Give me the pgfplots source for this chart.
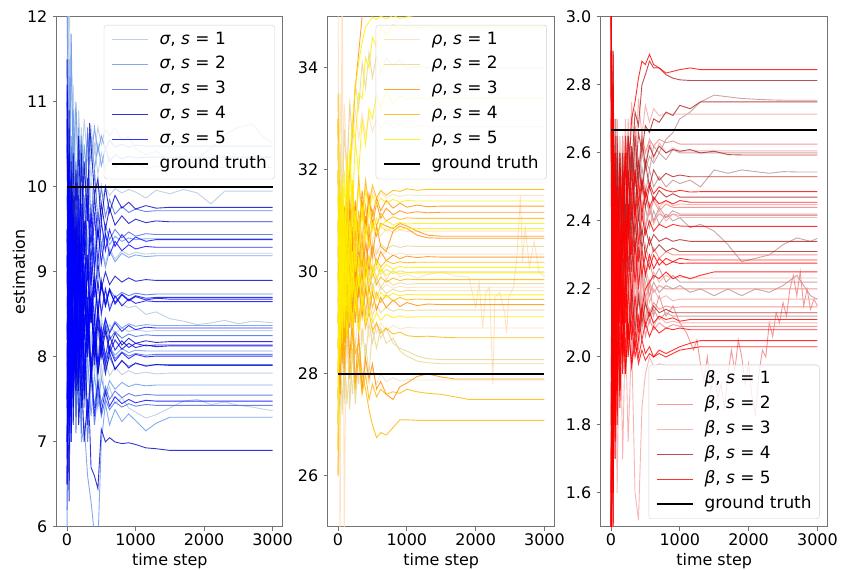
\documentclass[border=0pt]{standalone}
\usepackage{fontspec}
\setmainfont{DejaVu Sans}
\usepackage{pgfplots}
\usepackage{pgfplotstable}
\pgfplotsset{compat=1.18}

% series colours
\definecolor{b1}{HTML}{B0C4DE}\definecolor{b2}{HTML}{6495ED}\definecolor{b3}{HTML}{4169E1}
\definecolor{b4}{HTML}{0000CD}\definecolor{b5}{HTML}{0000FF}
\definecolor{r1}{HTML}{FCDDB8}\definecolor{r2}{HTML}{E6D48A}\definecolor{r3}{HTML}{FF8C00}
\definecolor{r4}{HTML}{FFB400}\definecolor{r5}{HTML}{FFEE00}
\definecolor{k1}{HTML}{BC8F8F}\definecolor{k2}{HTML}{F08080}\definecolor{k3}{HTML}{F4A4A4}
\definecolor{k4}{HTML}{B22222}\definecolor{k5}{HTML}{FF0000}

% ---------------- sigma runs ----------------
\pgfplotstableread{
x a b c d e f g h
0 9.8 13.0 8.5 11.5 7.5 10.0 6.5 12.0
30 12.8 9.2 11.2 8.0 10.6 7.0 9.8 8.4
60 9.5 11.8 8.2 10.4 7.9 9.7 7.4 10.1
90 11.2 9.5 10.6 8.6 9.9 7.7 9.3 7.2
130 9.9 10.9 9.2 10.0 8.0 9.4 7.5 9.5
170 10.9 9.8 10.4 8.6 9.6 7.9 8.9 7.4
210 10.2 10.7 9.4 9.7 8.2 9.1 7.6 8.9
250 10.8 10.0 10.2 8.8 9.3 8.0 8.6 7.5
300 10.3 10.6 9.6 9.5 8.4 8.8 7.7 8.5
350 10.7 10.1 10.1 8.9 9.0 8.1 8.3 7.6
400 10.4 10.5 9.7 9.4 8.5 8.6 7.8 8.2
450 10.7 10.15 10.05 9.0 8.9 8.2 8.15 7.55
500 10.5 10.4 9.8 9.3 8.55 8.45 7.75 7.9
560 10.68 10.2 10.0 9.1 8.8 8.25 7.95 7.5
620 10.6 10.35 9.9 9.28 8.6 8.38 7.78 7.65
700 10.7 10.22 9.98 9.15 8.7 8.28 7.88 7.45
800 10.55 10.3 9.93 9.25 8.62 8.34 7.79 7.52
900 10.6 10.24 9.97 9.2 8.58 8.3 7.84 7.4
1000 10.45 10.27 9.94 9.23 8.6 8.32 7.8 7.35
1150 10.38 10.22 9.87 9.21 8.5 8.3 7.82 7.28
1300 10.42 10.24 9.96 9.22 8.53 8.31 7.8 7.32
1500 10.3 10.23 9.92 9.22 8.45 8.31 7.81 7.4
1700 10.22 10.23 9.97 9.22 8.42 8.31 7.81 7.48
1900 10.33 10.23 9.93 9.22 8.38 8.31 7.81 7.5
2100 10.45 10.23 9.8 9.22 8.4 8.31 7.81 7.44
2300 10.62 10.23 9.95 9.22 8.43 8.31 7.81 7.47
2500 10.7 10.23 9.95 9.22 8.39 8.31 7.81 7.43
2700 10.74 10.23 9.95 9.22 8.42 8.31 7.81 7.41
2900 10.56 10.23 9.95 9.22 8.41 8.31 7.81 7.38
3000 10.52 10.23 9.95 9.22 8.40 8.31 7.81 7.37
}\sigA
\pgfplotstableread{
x a b c d e f g h
0 12.5 9.0 7.0 10.8 6.0 9.5 11.0 8.0
30 9.5 11.5 10.2 7.5 9.4 7.2 7.8 9.8
60 11.8 9.3 8.0 10.0 7.3 9.6 9.4 7.0
90 10.2 10.9 9.9 8.1 9.2 7.6 7.5 8.6
130 11.0 9.6 8.4 9.7 7.8 9.0 8.9 7.4
170 10.0 10.7 9.7 8.4 8.9 7.6 7.3 8.0
210 10.6 9.8 8.7 9.5 7.9 8.6 8.4 7.0
250 10.1 10.5 9.6 8.6 8.7 7.7 7.4 7.2
300 10.6 10.0 8.9 9.4 8.0 8.4 8.0 6.6
350 10.3 10.6 9.5 8.8 8.6 7.8 7.3 6.3
400 10.7 10.2 9.1 9.3 8.1 8.3 7.8 5.9
450 10.4 10.5 9.5 8.9 8.5 7.9 7.4 5.8
500 10.6 10.25 9.25 9.3 8.25 8.2 7.75 7.0
560 10.45 10.45 9.45 9.05 8.45 7.95 7.55 7.45
620 10.55 10.3 9.32 9.25 8.3 8.12 7.72 7.2
700 10.47 10.38 9.42 9.12 8.42 8.02 7.62 7.38
800 10.5 10.33 9.36 9.22 8.34 8.1 7.7 7.24
900 10.47 10.36 9.4 9.17 8.39 8.05 7.65 7.33
1000 10.49 10.34 9.38 9.2 8.36 8.08 7.68 7.25
1150 10.48 10.35 9.39 9.18 8.38 8.07 7.66 7.13
1300 10.48 10.35 9.39 9.19 8.37 8.07 7.67 7.22
1500 10.48 10.35 9.39 9.19 8.37 8.07 7.67 7.29
3000 10.48 10.35 9.39 9.19 8.37 8.07 7.67 7.29
}\sigB
\pgfplotstableread{
x a b c d e f g h
0 11.0 7.5 9.9 6.2 10.6 8.3 7.0 9.4
30 8.3 10.5 7.4 9.6 7.9 10.0 9.6 7.2
60 10.6 8.1 9.5 7.5 9.8 7.0 7.3 9.9
90 8.7 10.2 7.9 9.3 7.6 9.1 9.2 7.6
130 10.3 8.6 9.3 7.9 9.5 7.3 7.1 9.2
170 9.0 10.0 8.0 9.0 7.8 8.7 8.6 7.7
210 10.5 8.9 9.2 7.7 9.1 7.1 7.4 8.9
250 9.3 9.9 8.3 8.9 7.7 8.2 8.0 7.6
300 10.7 9.0 9.0 8.0 8.6 7.3 7.0 8.6
350 9.5 9.8 8.4 8.7 7.8 7.9 7.8 7.7
400 10.2 9.1 8.9 8.1 8.4 7.4 7.2 8.3
450 9.6 9.7 8.6 8.5 7.9 7.75 7.6 7.8
500 10.0 9.3 8.85 8.15 8.25 7.45 7.3 8.1
560 9.65 9.55 8.65 8.4 7.95 7.65 7.5 7.85
620 9.85 9.38 8.8 8.2 8.12 7.5 7.38 8.0
700 9.68 9.5 8.7 8.3 7.98 7.6 7.47 7.86
800 9.77 9.4 8.76 8.22 8.06 7.52 7.41 7.95
900 9.7 9.47 8.72 8.27 8.01 7.57 7.45 7.89
1000 9.74 9.42 8.75 8.24 8.04 7.54 7.42 7.92
1150 9.71 9.45 8.73 8.26 8.02 7.56 7.44 7.90
1300 9.72 9.44 8.74 8.25 8.03 7.55 7.43 7.91
3000 9.72 9.44 8.74 8.25 8.03 7.55 7.43 7.91
}\sigC
\pgfplotstableread{
x a b c d e f g h
0 8.2 10.8 7.0 9.5 6.5 11.5 8.0 7.4
30 10.9 8.0 9.8 7.2 9.7 8.4 6.3 9.9
60 8.6 10.3 7.6 10.1 7.4 9.6 8.9 7.1
90 10.4 8.7 9.9 8.0 9.3 7.2 7.4 9.6
130 9.1 10.2 8.1 9.7 7.6 8.9 8.5 7.8
170 10.6 8.9 9.6 7.9 9.2 7.6 7.2 9.4
210 9.3 10.4 8.3 9.5 8.0 8.8 7.9 8.0
250 10.3 9.2 9.4 8.2 8.7 7.5 7.0 9.0
300 9.6 10.1 8.5 9.2 8.1 8.4 7.5 8.2
330 10.75 9.5 9.0 8.6 8.5 8.0 7.2 8.6
350 10.5 9.3 9.3 8.4 8.6 7.7 6.7 8.7
400 9.9 9.9 8.7 9.0 8.0 8.2 6.6 7.9
450 10.1 9.4 9.1 8.5 8.5 7.8 6.45 8.4
500 9.6 9.8 8.8 8.9 8.1 8.1 7.15 8.0
560 10.0 9.5 9.0 8.6 8.35 7.8 7.0 8.3
620 9.7 9.75 8.85 8.8 8.1 8.05 7.05 8.05
700 9.9 9.55 8.95 8.62 8.28 7.85 7.0 8.2
800 9.75 9.66 8.88 8.73 8.14 7.96 6.98 8.09
900 9.82 9.57 8.93 8.66 8.22 7.87 6.99 8.16
1000 9.74 9.62 8.89 8.71 8.16 7.93 6.97 8.11
1150 9.78 9.58 8.91 8.67 8.19 7.89 6.93 8.14
1300 9.75 9.60 8.90 8.69 8.17 7.91 6.92 8.12
1500 9.76 9.59 8.90 8.68 8.18 7.90 6.90 8.13
3000 9.76 9.59 8.90 8.68 8.18 7.90 6.90 8.13
}\sigD
\pgfplotstableread{
x a b c d e f g h
0 9.2 6.8 10.5 8.0 11.2 7.5 9.0 6.5
30 7.1 10.2 8.2 10.4 7.6 9.8 6.9 9.6
60 9.9 8.0 9.8 7.3 9.5 7.0 9.7 7.8
90 7.8 9.7 7.6 9.6 8.1 9.2 7.5 9.3
130 9.6 8.4 9.4 7.8 9.2 7.6 9.1 8.0
170 8.1 9.9 8.0 9.4 7.7 8.9 7.8 9.0
210 9.8 8.7 9.3 8.2 8.9 7.4 8.9 7.9
250 8.6 9.6 8.2 9.1 7.8 8.5 7.6 8.9
300 9.9 8.9 9.1 8.3 8.6 7.2 8.7 8.0
350 8.9 9.7 8.4 9.0 7.9 7.9 7.8 8.8
400 9.7 9.0 8.9 8.4 8.3 7.3 8.5 8.1
450 9.1 9.5 8.5 8.9 7.8 7.7 7.9 8.6
500 9.6 9.1 8.85 8.5 8.2 7.35 8.35 8.2
560 9.25 9.45 8.6 8.8 7.9 7.6 8.0 8.45
620 9.5 9.2 8.78 8.55 8.1 7.42 8.25 8.28
700 9.3 9.36 8.64 8.72 7.95 7.53 8.08 8.4
800 9.44 9.25 8.74 8.6 8.05 7.45 8.19 8.3
900 9.34 9.32 8.67 8.68 7.98 7.5 8.11 8.37
1000 9.41 9.27 8.72 8.63 8.03 7.46 8.16 8.32
1150 9.36 9.3 8.69 8.66 8.0 7.49 8.13 8.35
1300 9.38 9.29 8.70 8.65 8.01 7.48 8.14 8.34
3000 9.38 9.29 8.70 8.65 8.01 7.48 8.14 8.34
}\sigE

% ---------------- rho runs ----------------
\pgfplotstableread{
x a b c d e f g
0 28.0 33.0 31.0 26.5 30.0 27.0 30.5
30 31.5 29.5 27.5 30.8 27.0 30.5 33.5
60 29.0 32.2 30.0 28.0 29.3 28.3 31.6
90 31.2 30.4 28.0 30.5 27.4 30.9 33.3
130 29.6 31.9 29.6 28.6 28.8 29.0 32.0
170 30.9 30.8 28.3 30.2 27.5 30.6 33.4
210 29.8 31.8 29.4 29.0 28.5 29.5 32.4
250 30.8 31.0 28.5 30.1 27.6 30.7 33.2
300 30.0 31.7 29.3 29.3 28.3 30.0 32.6
350 30.7 31.2 28.6 30.0 27.7 30.9 33.1
400 30.1 31.7 29.2 29.5 28.2 30.4 32.7
450 30.55 31.3 28.7 29.9 27.8 30.85 33.05
500 30.2 31.6 29.1 29.6 28.1 30.6 32.75
560 30.45 31.4 28.8 29.8 27.8 30.9 33.0
620 30.3 31.55 29.0 29.65 28.0 30.7 32.8
700 30.4 31.45 28.85 29.75 27.85 30.85 32.95
800 30.32 31.52 28.95 29.68 27.93 30.77 32.82
900 30.37 31.48 28.88 29.72 27.86 30.82 32.9
1000 30.34 31.51 28.91 29.69 27.89 30.79 32.84
1150 30.35 31.5 28.9 29.7 27.88 30.8 32.86
1300 30.35 31.5 28.9 29.7 27.88 30.8 32.85
3000 30.35 31.5 28.9 29.7 27.88 30.8 32.85
}\rhoA
\pgfplotstableread{
x a b c d e f g h
0 30.0 26.0 31.5 28.5 33.0 27.0 29.5 32.0
30 32.5 28.8 27.4 31.0 29.0 30.5 31.8 28.0
60 31.0 27.2 29.6 28.8 31.2 28.2 29.0 30.4
90 32.8 28.6 27.5 30.5 29.4 30.0 31.0 28.6
130 31.8 27.4 28.9 29.2 30.9 28.6 29.4 30.0
170 33.3 28.4 27.3 30.4 29.7 29.8 30.7 28.9
210 32.6 27.6 28.5 29.3 30.8 28.8 29.6 29.8
250 33.7 28.7 27.4 30.2 29.9 29.6 30.5 29.0
300 33.2 27.8 28.3 29.5 30.7 29.0 29.8 29.9
350 34.1 28.9 27.6 30.1 30.0 29.5 30.3 29.2
400 33.6 28.3 28.6 29.6 30.6 29.1 29.9 29.8
450 34.3 29.0 28.0 30.0 30.2 29.4 30.2 29.4
500 33.8 28.6 28.9 29.7 30.6 29.15 29.9 29.75
560 34.25 29.0 28.5 29.9 30.35 29.35 30.1 29.5
620 33.9 28.7 28.9 29.7 30.55 29.2 29.95 29.7
700 34.2 28.9 28.6 29.85 30.45 29.3 30.05 29.58
800 34.05 28.6 28.7 29.74 30.52 29.23 29.97 29.66
900 34.15 28.5 28.45 29.79 30.48 29.27 30.02 29.61
1000 33.98 28.45 28.35 29.76 30.51 29.24 29.99 29.64
1150 34.03 28.35 28.25 29.77 30.5 29.25 30.0 29.63
1300 34.0 28.3 28.22 29.77 30.5 29.25 30.0 29.63
1500 34.0 28.28 28.2 29.77 30.5 29.25 30.0 29.63
3000 34.0 28.28 28.2 29.77 30.5 29.25 30.0 29.63
}\rhoB
\pgfplotstableread{
x a b c d e f g h
0 27.5 32.0 29.0 26.5 30.5 28.0 33.0 29.5
30 30.5 28.6 31.2 29.8 27.6 31.0 28.4 28.8
60 28.8 30.8 28.2 31.0 29.5 29.2 30.6 30.2
90 31.3 29.0 30.4 28.6 28.1 30.9 29.0 29.6
130 29.6 30.6 28.8 30.4 29.4 29.6 30.3 31.0
170 31.5 29.4 30.1 28.9 28.3 31.2 29.2 32.0
210 30.2 30.9 29.2 29.9 29.1 30.0 30.6 32.8
250 31.4 29.8 30.4 29.0 27.8 31.3 29.6 33.6
300 30.6 31.0 29.5 29.8 28.8 30.5 30.5 34.3
350 31.6 30.1 30.6 29.1 27.7 31.4 29.8 35.0
400 30.9 31.1 29.9 29.7 28.3 30.8 30.6 35.6
450 31.5 30.5 30.8 29.2 27.9 31.5 30.0 36.0
500 31.1 31.0 30.3 29.6 28.2 30.9 30.5 36.5
560 31.45 30.7 30.9 29.25 27.7 31.35 30.15 37
620 31.2 30.95 30.5 29.5 27.85 31.05 30.4 37
700 31.4 30.9 30.4 29.3 27.6 31.25 30.22 37
800 31.25 30.85 30.8 29.45 27.5 31.12 30.33 37
900 31.35 30.95 30.9 29.32 27.75 31.2 30.26 37
1000 31.27 30.9 30.85 29.4 27.82 31.15 30.31 37
1150 31.31 30.8 30.72 29.34 27.95 31.18 30.28 37
1300 31.28 30.72 30.67 29.37 28.0 31.16 30.3 37
1500 31.29 30.70 30.66 29.36 27.94 31.17 30.29 37
1700 31.29 30.70 30.66 29.36 27.90 31.17 30.29 37
3000 31.29 30.70 30.66 29.36 27.90 31.17 30.29 37
}\rhoC
\pgfplotstableread{
x a b c d e f g h
0 30.0 27.0 32.5 29.0 26.0 33.5 28.5 31.0
30 28.0 30.5 28.5 31.5 30.8 29.0 31.0 28.2
60 31.5 28.8 30.6 28.4 28.3 31.4 29.0 30.4
90 29.4 30.2 28.0 30.0 30.3 29.5 30.8 28.7
130 31.8 28.9 29.6 28.7 28.7 31.2 29.3 30.6
170 30.2 29.9 27.9 29.6 30.1 29.8 30.7 29.1
210 31.7 28.7 28.9 28.9 28.9 31.3 29.5 30.4
250 30.6 29.6 27.7 28.4 29.9 30.4 30.5 29.3
300 31.9 28.8 28.4 28.6 29.0 31.2 29.7 30.3
350 31.0 29.4 27.6 28.0 29.8 30.6 30.4 29.5
400 31.8 28.9 28.0 27.7 29.2 31.3 29.9 30.2
450 31.3 29.2 27.5 27.3 29.7 30.8 30.3 29.6
500 31.7 28.85 27.8 27.0 29.3 31.2 30.0 30.0
560 31.45 29.0 27.55 26.75 29.6 30.9 30.25 29.75
620 31.6 28.8 27.7 26.85 29.4 31.15 30.1 29.9
700 31.5 28.9 27.6 26.8 29.55 31.0 30.22 29.8
800 31.6 28.78 27.65 26.95 29.43 31.08 30.16 29.88
900 31.58 28.82 27.62 27.1 29.5 31.03 30.2 29.83
1000 31.63 28.75 27.7 27.1 29.45 31.06 30.18 29.86
1150 31.6 28.73 27.65 27.09 29.47 31.05 30.19 29.85
1300 31.62 28.74 27.62 27.09 29.46 31.05 30.19 29.85
1500 31.62 28.72 27.6 27.09 29.46 31.05 30.19 29.85
1700 31.62 28.71 27.55 27.09 29.46 31.05 30.19 29.85
1900 31.62 28.71 27.5 27.09 29.46 31.05 30.19 29.85
3000 31.62 28.71 27.5 27.09 29.46 31.05 30.19 29.85
}\rhoD
\pgfplotstableread{
x a b c d e f g h i j
0 32.0 28.0 31.0 27.5 30.0 33.0 26.5 29.0 31.5 27.0
30 29.5 31.5 28.5 30.5 28.2 29.3 30.8 30.0 29.0 31.8
60 31.6 29.3 30.7 28.6 31.3 30.7 28.9 29.6 31.9 29.5
90 30.0 31.2 29.0 30.1 29.2 28.9 30.6 30.8 30.2 32.0
130 31.9 29.6 30.5 28.7 31.0 30.3 29.2 31.3 32.3 30.4
170 30.4 31.0 29.3 29.8 29.6 29.0 30.4 32.2 31.4 32.4
210 31.8 30.0 30.4 28.9 31.2 30.0 29.5 32.9 32.9 31.2
250 30.8 31.2 29.5 29.6 30.0 29.2 30.5 33.6 32.6 32.6
300 31.7 30.4 30.3 28.8 31.0 29.9 29.7 34.1 33.5 31.9
350 31.0 31.3 29.7 29.5 30.3 29.3 30.4 34.5 33.4 33.0
400 31.6 30.6 30.2 29.0 30.9 29.8 29.8 34.8 34.2 32.5
450 31.2 31.2 29.8 29.3 30.5 29.4 30.3 34.9 34.0 33.2
500 31.5 30.8 30.1 29.0 30.95 29.7 29.95 35.0 34.6 33.0
560 31.3 31.05 29.9 29.2 30.75 29.45 30.2 34.95 34.4 33.5
620 31.45 30.9 30.05 29.05 30.9 29.6 30.0 35.02 34.8 33.2
700 31.35 31.0 29.93 29.17 30.8 29.5 30.14 34.96 34.65 33.55
800 31.42 30.92 30.01 29.1 30.88 29.58 30.06 35.03 34.85 33.3
900 31.37 30.97 29.96 29.14 30.83 29.53 30.11 34.97 34.75 33.45
1000 31.4 30.94 29.99 29.11 30.86 29.56 30.08 35.0 34.82 33.38
1150 31.39 30.95 29.98 29.12 30.85 29.55 30.09 35.04 34.79 33.42
1300 31.39 30.95 29.98 29.12 30.85 29.55 30.09 35.1 34.8 33.4
1500 31.39 30.95 29.98 29.12 30.85 29.55 30.09 35.4 34.8 33.4
3000 31.39 30.95 29.98 29.12 30.85 29.55 30.09 36.0 34.8 33.4
}\rhoE

% ---------------- beta runs ----------------
\pgfplotstableread{
x a b c d e f g h
0 3.1 1.6 2.9 1.3 3.2 1.5 2.8 1.4
30 1.7 2.7 1.6 2.6 1.8 2.8 1.5 2.9
60 2.5 2.0 2.5 2.0 2.4 1.9 2.3 2.2
90 2.0 2.6 2.1 2.5 1.9 2.5 1.8 2.7
130 2.55 2.2 2.45 2.1 2.35 2.1 2.25 2.3
170 2.2 2.6 2.2 2.45 2.05 2.55 1.95 2.65
210 2.6 2.3 2.5 2.15 2.3 2.2 2.25 2.35
250 2.35 2.6 2.25 2.4 2.1 2.5 2.0 2.6
300 2.62 2.4 2.45 2.2 2.3 2.3 2.2 2.4
350 2.45 2.58 2.3 2.35 2.12 2.48 2.05 2.62
400 2.58 2.45 2.45 2.22 2.28 2.35 2.18 2.5
450 2.5 2.56 2.35 2.3 2.15 2.46 2.08 2.6
500 2.58 2.48 2.44 2.24 2.25 2.38 2.16 2.55
560 2.55 2.55 2.38 2.28 2.18 2.45 2.1 2.59
620 2.62 2.5 2.43 2.23 2.22 2.4 2.14 2.57
700 2.6 2.53 2.39 2.26 2.19 2.44 2.11 2.6
800 2.64 2.5 2.42 2.22 2.21 2.41 2.13 2.58
900 2.66 2.52 2.4 2.24 2.2 2.43 2.12 2.61
1000 2.7 2.51 2.41 2.22 2.21 2.42 2.12 2.6
1150 2.72 2.52 2.38 2.22 2.19 2.42 2.12 2.6
1300 2.75 2.5 2.39 2.22 2.2 2.42 2.12 2.6
1500 2.77 2.55 2.37 2.22 2.18 2.42 2.12 2.6
1700 2.765 2.54 2.33 2.22 2.2 2.42 2.12 2.6
1900 2.76 2.55 2.28 2.22 2.18 2.42 2.12 2.6
2100 2.758 2.545 2.29 2.22 2.2 2.42 2.12 2.6
2300 2.756 2.54 2.3 2.22 2.19 2.42 2.12 2.6
2500 2.755 2.545 2.33 2.22 2.21 2.42 2.12 2.6
2700 2.755 2.544 2.35 2.22 2.24 2.42 2.12 2.6
2900 2.755 2.544 2.34 2.22 2.18 2.42 2.12 2.6
3000 2.755 2.544 2.349 2.22 2.17 2.42 2.12 2.60
}\betA
\pgfplotstableread{
x a b c d e f g
0 1.5 3.1 1.4 2.9 1.2 3.0 1.6
30 2.7 1.7 2.8 1.8 2.6 1.7 2.7
60 2.0 2.6 2.0 2.5 1.8 2.5 1.9
90 2.6 2.1 2.5 1.9 2.4 1.8 2.5
130 2.2 2.55 2.1 2.4 1.9 2.45 2.0
170 2.65 2.2 2.55 2.0 2.3 2.0 2.4
210 2.35 2.55 2.2 2.3 1.95 2.45 2.05
250 2.66 2.3 2.5 2.05 2.25 2.15 2.35
300 2.45 2.5 2.3 2.25 2.0 2.4 2.1
350 2.68 2.35 2.48 2.1 2.18 2.2 2.3
400 2.55 2.5 2.35 2.2 2.02 2.38 2.15
450 2.66 2.4 2.45 2.12 2.14 2.25 2.25
500 2.6 2.47 2.38 2.18 2.06 2.33 2.17
560 2.64 2.42 2.43 2.13 2.11 2.28 2.22
620 2.62 2.46 2.4 2.16 2.08 2.32 2.19
700 2.64 2.43 2.42 2.14 2.1 2.29 2.21
800 2.63 2.45 2.41 2.15 2.085 2.31 2.2
900 2.635 2.44 2.42 2.145 2.095 2.3 2.2
1000 2.626 2.44 2.416 2.147 2.09 2.30 2.20
3000 2.626 2.44 2.416 2.147 2.09 2.30 2.20
}\betB
\pgfplotstableread{
x a b c d e f g h
0 2.9 1.4 3.1 1.6 2.7 1.3 2.0 3.0
30 1.8 2.8 1.7 2.6 1.6 2.5 1.5 1.9
60 2.6 2.0 2.5 2.1 2.4 1.9 2.3 2.5
90 2.1 2.7 2.0 2.5 1.8 2.4 1.6 2.0
130 2.65 2.2 2.55 2.15 2.35 1.95 2.2 2.45
170 2.3 2.65 2.2 2.55 2.0 2.35 1.7 2.05
210 2.7 2.35 2.6 2.2 2.4 2.0 2.1 2.4
250 2.45 2.7 2.3 2.5 2.1 2.3 1.75 2.1
300 2.75 2.45 2.55 2.3 2.35 2.05 2.05 2.35
350 2.55 2.68 2.35 2.48 2.15 2.25 1.6 2.12
400 2.76 2.52 2.52 2.35 2.3 2.08 1.52 2.3
450 2.65 2.66 2.4 2.45 2.2 2.18 1.85 2.14
500 2.74 2.56 2.5 2.38 2.27 2.1 1.95 2.22
560 2.69 2.64 2.42 2.44 2.21 2.14 2.0 2.16
620 2.73 2.58 2.47 2.39 2.25 2.09 1.97 2.2
700 2.71 2.63 2.44 2.43 2.22 2.12 1.98 2.17
800 2.715 2.6 2.46 2.4 2.24 2.1 1.975 2.18
900 2.714 2.615 2.445 2.42 2.23 2.105 1.975 2.165
1000 2.714 2.605 2.45 2.41 2.235 2.1 1.975 2.17
1150 2.714 2.606 2.448 2.41 2.232 2.10 1.975 2.17
3000 2.714 2.606 2.448 2.41 2.232 2.10 1.975 2.17
}\betC
\pgfplotstableread{
x a b c d e f g h
0 1.2 3.2 1.8 2.9 1.5 3.1 1.3 2.7
30 2.8 1.6 2.9 1.7 2.7 1.9 2.8 1.6
60 2.1 2.7 2.0 2.6 1.9 2.6 2.0 2.5
90 2.6 2.2 2.65 2.1 2.55 2.0 2.5 1.9
130 2.3 2.6 2.2 2.55 2.15 2.5 2.1 2.3
170 2.55 2.3 2.6 2.25 2.5 2.15 2.45 2.0
210 2.4 2.6 2.35 2.6 2.25 2.45 2.2 2.25
250 2.65 2.4 2.65 2.35 2.55 2.25 2.45 2.05
300 2.55 2.62 2.45 2.6 2.35 2.45 2.25 2.2
350 2.72 2.5 2.65 2.42 2.55 2.3 2.4 2.08
400 2.68 2.66 2.52 2.58 2.4 2.42 2.28 2.18
450 2.8 2.6 2.64 2.48 2.52 2.32 2.38 2.1
500 2.83 2.68 2.56 2.57 2.44 2.38 2.3 2.16
560 2.87 2.66 2.62 2.5 2.5 2.33 2.35 2.12
620 2.85 2.7 2.59 2.55 2.46 2.36 2.31 2.15
700 2.85 2.69 2.62 2.52 2.49 2.34 2.33 2.13
800 2.83 2.72 2.6 2.54 2.47 2.35 2.31 2.14
900 2.82 2.71 2.61 2.53 2.48 2.34 2.32 2.13
1000 2.815 2.74 2.605 2.535 2.47 2.345 2.31 2.13
1150 2.813 2.73 2.61 2.53 2.47 2.34 2.31 2.13
1300 2.813 2.75 2.6 2.53 2.47 2.34 2.31 2.13
1500 2.813 2.75 2.605 2.53 2.47 2.34 2.31 2.13
1700 2.813 2.75 2.595 2.53 2.47 2.34 2.31 2.13
1900 2.813 2.75 2.594 2.53 2.47 2.34 2.31 2.13
3000 2.813 2.75 2.594 2.53 2.47 2.34 2.31 2.13
}\betD
\pgfplotstableread{
x a b c d e f g h i j k
0 3.2 1.3 3.1 1.4 3.3 1.2 2.9 1.4 3.2 1.3 1.6
30 1.5 2.9 1.6 2.8 1.5 2.7 1.6 2.6 1.7 2.5 2.8
60 2.5 1.9 2.6 2.1 2.3 1.8 2.4 1.7 2.2 1.75 1.9
90 2.2 2.5 2.1 2.5 1.9 2.4 1.9 2.3 1.8 2.2 2.3
130 2.6 2.1 2.55 2.2 2.4 2.0 2.3 1.85 2.3 1.9 1.95
170 2.3 2.55 2.3 2.5 2.1 2.35 2.0 2.25 1.95 2.15 2.2
210 2.65 2.3 2.6 2.25 2.4 2.1 2.25 2.0 2.2 1.95 1.95
250 2.5 2.55 2.35 2.45 2.2 2.4 2.05 2.2 2.0 2.1 2.1
300 2.7 2.4 2.55 2.3 2.35 2.15 2.1 2.05 2.15 1.98 1.97
350 2.75 2.55 2.4 2.45 2.22 2.35 2.0 2.18 2.02 2.08 2.05
400 2.82 2.45 2.52 2.33 2.32 2.2 2.05 2.08 2.12 2.0 1.98
450 2.87 2.52 2.42 2.42 2.24 2.32 2.14 2.15 2.05 2.05 2.02
500 2.86 2.47 2.49 2.36 2.3 2.24 2.2 2.09 2.1 2.01 1.99
560 2.89 2.51 2.44 2.4 2.26 2.3 2.22 2.13 2.06 2.03 2.01
620 2.86 2.48 2.47 2.37 2.3 2.26 2.24 2.1 2.09 2.0 2.0
700 2.85 2.5 2.45 2.39 2.27 2.29 2.23 2.12 2.07 2.02 2.01
800 2.835 2.49 2.46 2.38 2.29 2.27 2.25 2.11 2.085 2.01 2.0
900 2.84 2.485 2.45 2.39 2.28 2.28 2.23 2.115 2.08 2.02 2.01
1000 2.845 2.49 2.46 2.385 2.29 2.275 2.24 2.105 2.085 2.03 2.02
1150 2.85 2.485 2.455 2.384 2.285 2.276 2.23 2.11 2.08 2.04 2.025
1300 2.845 2.486 2.455 2.384 2.285 2.276 2.24 2.11 2.08 2.048 2.03
1500 2.845 2.486 2.455 2.384 2.285 2.276 2.25 2.11 2.08 2.048 2.03
3000 2.845 2.486 2.455 2.384 2.285 2.276 2.25 2.11 2.08 2.048 2.03
}\betE

% one estimation run: a thin, slightly transparent line
\tikzset{run/.style={line width=0.9pt, opacity=0.8}}

\pgfplotsset{
  % legend sample: a short line in the given style, padded on both sides
  lg/.style={legend image code/.code={\path[draw=none] (-2pt,0pt) -- (46pt,0pt);\draw[#1] (0pt,0pt) -- (36pt,0pt);}},
  panel/.style={
    scale only axis, width=228pt, height=512pt, anchor=south west,
    xmin=-150, xmax=3150, xtick={0,1000,2000,3000},
    scaled x ticks=false, scaled y ticks=false,
    /pgf/number format/1000 sep={},
    /pgf/number format/assume math mode=true,
    tick align=outside, tick pos=left, major tick length=4pt,
    axis line style={black!55, line width=0.9pt},
    tick style={black!55, line width=0.9pt},
    xticklabel style={yshift=3pt},
    xlabel={time step},
    xlabel style={at={(axis description cs:0.5,-0.0762)}, anchor=base, inner sep=0pt},
    legend cell align=left,
    legend style={draw=black!18, fill=white, fill opacity=0.8, text opacity=1,
      font=\fontsize{17}{20}\selectfont,
      rounded corners=3pt, inner xsep=6pt, inner ysep=5pt, row sep=5.5pt,
      nodes={inner sep=2pt, text height=12pt, text depth=3.5pt}},
  },
}

\begin{document}
\fontsize{16}{19}\selectfont
\begin{tikzpicture}
\path (0pt,0pt) rectangle (843pt,572pt);

% sigma
\begin{axis}[panel, at={(57pt,43pt)}, width=227pt, ymin=6, ymax=12, ytick={6,7,...,12},
  ylabel={estimation}, ylabel style={at={(axis description cs:-0.167,0.5)}, anchor=center},
  legend style={at={(1,1)}, anchor=north east, xshift=-8pt, yshift=-8pt}]
\addlegendimage{lg={b1, run}}\addlegendentry{\textit{σ}, \textit{s} = 1}
\addlegendimage{lg={b2, run}}\addlegendentry{\textit{σ}, \textit{s} = 2}
\addlegendimage{lg={b3, run}}\addlegendentry{\textit{σ}, \textit{s} = 3}
\addlegendimage{lg={b4, run}}\addlegendentry{\textit{σ}, \textit{s} = 4}
\addlegendimage{lg={b5, run}}\addlegendentry{\textit{σ}, \textit{s} = 5}
\addlegendimage{lg={black, line width=2.4pt}}\addlegendentry{ground truth}
\pgfplotsinvokeforeach{a,b,c,d,e,f,g,h}{\addplot[b1, run, forget plot] table[x=x, y=#1]{\sigA};}
\pgfplotsinvokeforeach{a,b,c,d,e,f,g,h}{\addplot[b2, run, forget plot] table[x=x, y=#1]{\sigB};}
\pgfplotsinvokeforeach{a,b,c,d,e,f,g,h}{\addplot[b3, run, forget plot] table[x=x, y=#1]{\sigC};}
\pgfplotsinvokeforeach{a,b,c,d,e,f,g,h}{\addplot[b4, run, forget plot] table[x=x, y=#1]{\sigD};}
\pgfplotsinvokeforeach{a,b,c,d,e,f,g,h}{\addplot[b5, run, forget plot] table[x=x, y=#1]{\sigE};}
\addplot[black, line width=2.4pt, forget plot] coordinates {(0,10) (3000,10)};
\end{axis}

% rho
\begin{axis}[panel, at={(329pt,43pt)}, ymin=25, ymax=35, ytick={26,28,...,34},
  legend style={at={(1,1)}, anchor=north east, xshift=-8pt, yshift=-8pt}]
\addlegendimage{lg={r1, run}}\addlegendentry{\textit{ρ}, \textit{s} = 1}
\addlegendimage{lg={r2, run}}\addlegendentry{\textit{ρ}, \textit{s} = 2}
\addlegendimage{lg={r3, run}}\addlegendentry{\textit{ρ}, \textit{s} = 3}
\addlegendimage{lg={r4, run}}\addlegendentry{\textit{ρ}, \textit{s} = 4}
\addlegendimage{lg={r5, run}}\addlegendentry{\textit{ρ}, \textit{s} = 5}
\addlegendimage{lg={black, line width=2.4pt}}\addlegendentry{ground truth}
\pgfplotsinvokeforeach{a,b,c,d,e,f,g}{\addplot[r1, run, forget plot] table[x=x, y=#1]{\rhoA};}
\addplot[r1, run, forget plot] coordinates {(0,36)(30,24)(60,37)(90,24.5)(130,31)(170,29.2)(210,30.8)
  (250,29.4)(300,30.5)(350,29.6)(400,30.3)(450,29.7)(500,30.2)(560,29.8)(620,30.1)(700,29.85)
  (800,30.05)(900,29.9)(1000,29.95)(1150,29.88)(1300,29.95)(1500,30.0)(1700,29.92)(1900,29.9)
  (1950,29.6)(2000,29.3)(2050,29.8)(2100,28.9)(2150,29.6)(2200,29.7)(2250,27.8)(2280,29.5)
  (2350,29.6)(2420,29.2)(2450,28.8)(2480,29.5)(2550,29.7)(2600,30.3)(2650,31.5)(2680,30.2)
  (2720,30.9)(2780,30.1)(2850,30.6)(2920,30.0)(3000,29.9)};
\pgfplotsinvokeforeach{a,b,c,d,e,f,g,h}{\addplot[r2, run, forget plot] table[x=x, y=#1]{\rhoB};}
\pgfplotsinvokeforeach{a,b,c,d,e,f,g,h}{\addplot[r3, run, forget plot] table[x=x, y=#1]{\rhoC};}
\pgfplotsinvokeforeach{a,b,c,d,e,f,g,h}{\addplot[r4, run, forget plot] table[x=x, y=#1]{\rhoD};}
\pgfplotsinvokeforeach{a,b,c,d,e,f,g,h,i,j}{\addplot[r5, run, forget plot] table[x=x, y=#1]{\rhoE};}
\addplot[black, line width=2.4pt, forget plot] coordinates {(0,28) (3000,28)};
\end{axis}

% beta
\begin{axis}[panel, at={(603pt,43pt)}, ymin=1.5, ymax=3.0,
  ytick={1.6,1.8,2.0,2.2,2.4,2.6,2.8,3.0},
  yticklabel style={/pgf/number format/.cd, fixed, fixed zerofill, precision=1},
  legend style={at={(1,0)}, anchor=south east, xshift=-8pt, yshift=8pt}]
\addlegendimage{lg={k1, run}}\addlegendentry{\textit{β}, \textit{s} = 1}
\addlegendimage{lg={k2, run}}\addlegendentry{\textit{β}, \textit{s} = 2}
\addlegendimage{lg={k3, run}}\addlegendentry{\textit{β}, \textit{s} = 3}
\addlegendimage{lg={k4, run}}\addlegendentry{\textit{β}, \textit{s} = 4}
\addlegendimage{lg={k5, run}}\addlegendentry{\textit{β}, \textit{s} = 5}
\addlegendimage{lg={black, line width=2.4pt}}\addlegendentry{ground truth}
\pgfplotsinvokeforeach{a,b,c,d,e,f,g,h}{\addplot[k1, run, forget plot] table[x=x, y=#1]{\betA};}
\pgfplotsinvokeforeach{a,b,c,d,e,f,g}{\addplot[k2, run, forget plot] table[x=x, y=#1]{\betB};}
\addplot[k2, run, forget plot] coordinates {(0,1.4)(30,2.9)(60,1.7)(90,2.6)(130,1.9)(170,2.5)(210,2.0)
  (250,2.4)(300,2.1)(350,2.3)(400,2.05)(450,2.25)(500,2.1)(560,2.22)(620,2.12)(700,2.18)(800,2.12)
  (900,2.15)(1000,2.1)(1100,2.07)(1200,2.02)(1250,2.05)(1300,1.98)(1350,1.93)(1400,2.0)(1450,1.9)
  (1500,1.95)(1550,1.88)(1600,1.92)(1650,1.85)(1700,1.95)(1750,2.02)(1800,1.96)(1850,2.05)
  (1900,2.0)(1950,1.92)(2000,1.98)(2050,1.88)(2100,1.83)(2150,1.95)(2200,2.02)(2250,2.0)
  (2300,2.1)(2350,2.06)(2400,2.13)(2450,2.1)(2500,2.16)(2550,2.12)(2600,2.2)(2650,2.24)
  (2700,2.18)(2750,2.25)(2800,2.15)(2850,2.2)(2900,2.14)(2950,2.17)(3000,2.15)};
\pgfplotsinvokeforeach{a,b,c,d,e,f,g,h}{\addplot[k3, run, forget plot] table[x=x, y=#1]{\betC};}
\pgfplotsinvokeforeach{a,b,c,d,e,f,g,h}{\addplot[k4, run, forget plot] table[x=x, y=#1]{\betD};}
\pgfplotsinvokeforeach{a,b,c,d,e,f,g,h,i,j,k}{\addplot[k5, run, forget plot] table[x=x, y=#1]{\betE};}
\addplot[black, line width=2.4pt, forget plot] coordinates {(0,2.6667) (3000,2.6667)};
\end{axis}
\end{tikzpicture}
\end{document}
